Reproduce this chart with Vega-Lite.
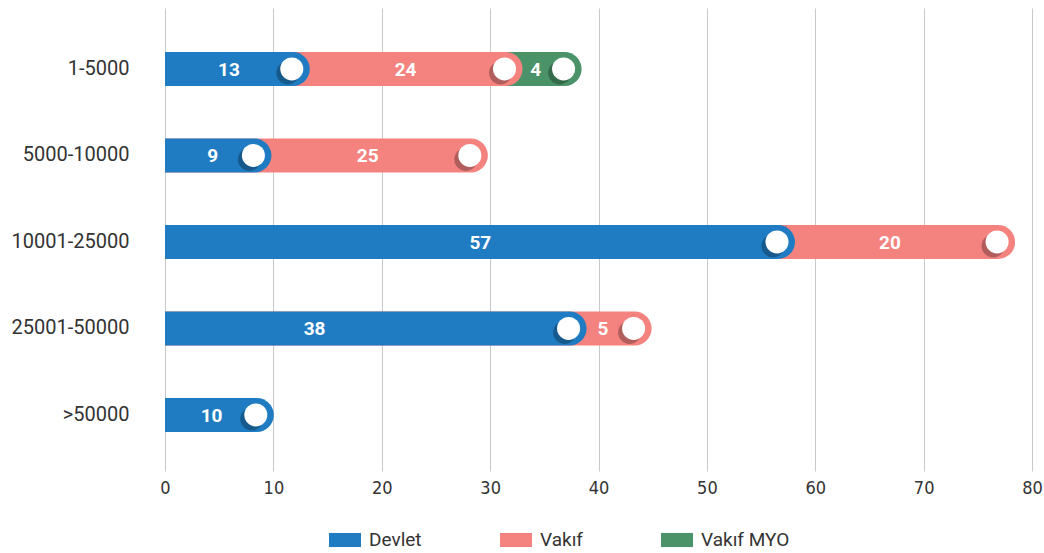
{
  "$schema": "https://vega.github.io/schema/vega-lite/v6.json",
  "width": 867,
  "height": 463,
  "autosize": {"type": "none"},
  "padding": {"left": 165, "top": 8, "right": 12, "bottom": 82},
  "background": "white",
  "config": {
    "view": {"stroke": null},
    "font": "Roboto"
  },
  "data": {
    "values": [
      {"range": "1-5000", "group": "Vakıf MYO", "label": 4, "end": 38.44, "labelPos": 34.2},
      {"range": "1-5000", "group": "Vakıf", "label": 24, "end": 32.99, "labelPos": 22.2},
      {"range": "1-5000", "group": "Devlet", "label": 13, "end": 13.36, "labelPos": 5.9},
      {"range": "5000-10000", "group": "Vakıf", "label": 25, "end": 29.79, "labelPos": 18.7},
      {"range": "5000-10000", "group": "Devlet", "label": 9, "end": 9.82, "labelPos": 4.4},
      {"range": "10001-25000", "group": "Vakıf", "label": 20, "end": 78.44, "labelPos": 66.9},
      {"range": "10001-25000", "group": "Devlet", "label": 57, "end": 58.13, "labelPos": 29.1},
      {"range": "25001-50000", "group": "Vakıf", "label": 5, "end": 44.9, "labelPos": 40.4},
      {"range": "25001-50000", "group": "Devlet", "label": 38, "end": 38.9, "labelPos": 13.8},
      {"range": ">50000", "group": "Devlet", "label": 10, "end": 10.04, "labelPos": 4.3}
    ]
  },
  "encoding": {
    "y": {
      "field": "range",
      "type": "nominal",
      "sort": ["1-5000", "5000-10000", "10001-25000", "25001-50000", ">50000"],
      "scale": {"paddingInner": 0, "paddingOuter": 0.176, "align": 0.58},
      "axis": {
        "title": null,
        "domain": false,
        "ticks": false,
        "grid": false,
        "labelFont": "Roboto",
        "labelFontSize": 20,
        "labelColor": "#333333",
        "labelPadding": 36
      }
    }
  },
  "layer": [
    {
      "mark": {"type": "bar", "size": 34, "cornerRadiusEnd": 17},
      "encoding": {
        "x": {
          "field": "end",
          "type": "quantitative",
          "stack": null,
          "scale": {"domain": [0, 80], "nice": false},
          "axis": {
            "title": null,
            "values": [0, 10, 20, 30, 40, 50, 60, 70, 80],
            "domain": false,
            "ticks": false,
            "grid": true,
            "gridColor": "#c8c8c8",
            "gridWidth": 1,
            "labelFlush": false,
            "labelFont": "'DejaVu Sans Condensed', 'Roboto Condensed', Roboto",
            "labelFontSize": 18,
            "labelColor": "#333333",
            "labelPadding": 8
          }
        },
        "color": {
          "field": "group",
          "type": "nominal",
          "scale": {
            "domain": ["Devlet", "Vakıf", "Vakıf MYO"],
            "range": ["#1f7cc3", "#f4827f", "#4a9369"]
          },
          "legend": {
            "orient": "none",
            "legendX": 164,
            "legendY": 516,
            "direction": "horizontal",
            "title": null,
            "symbolType": "M-1,-0.44H1V0.44H-1Z",
            "symbolSize": 1024,
            "symbolStrokeWidth": 0,
            "labelFont": "Roboto",
            "labelFontSize": 19,
            "labelColor": "#333333",
            "labelOffset": 8,
            "columnPadding": 78
          }
        },
        "order": {"field": "end", "type": "quantitative", "sort": "descending"}
      }
    },
    {
      "mark": {"type": "circle", "size": 529, "color": "black", "opacity": 0.28, "xOffset": -22, "yOffset": 4},
      "encoding": {
        "x": {"field": "end", "type": "quantitative"}
      }
    },
    {
      "mark": {"type": "circle", "size": 529, "color": "white", "opacity": 1, "xOffset": -18},
      "encoding": {
        "x": {"field": "end", "type": "quantitative"}
      }
    },
    {
      "mark": {"type": "text", "color": "white", "font": "Roboto", "fontWeight": "bold", "fontSize": 19, "align": "center", "baseline": "middle", "dy": 1},
      "encoding": {
        "x": {"field": "labelPos", "type": "quantitative"},
        "text": {"field": "label", "type": "quantitative"}
      }
    }
  ]
}
